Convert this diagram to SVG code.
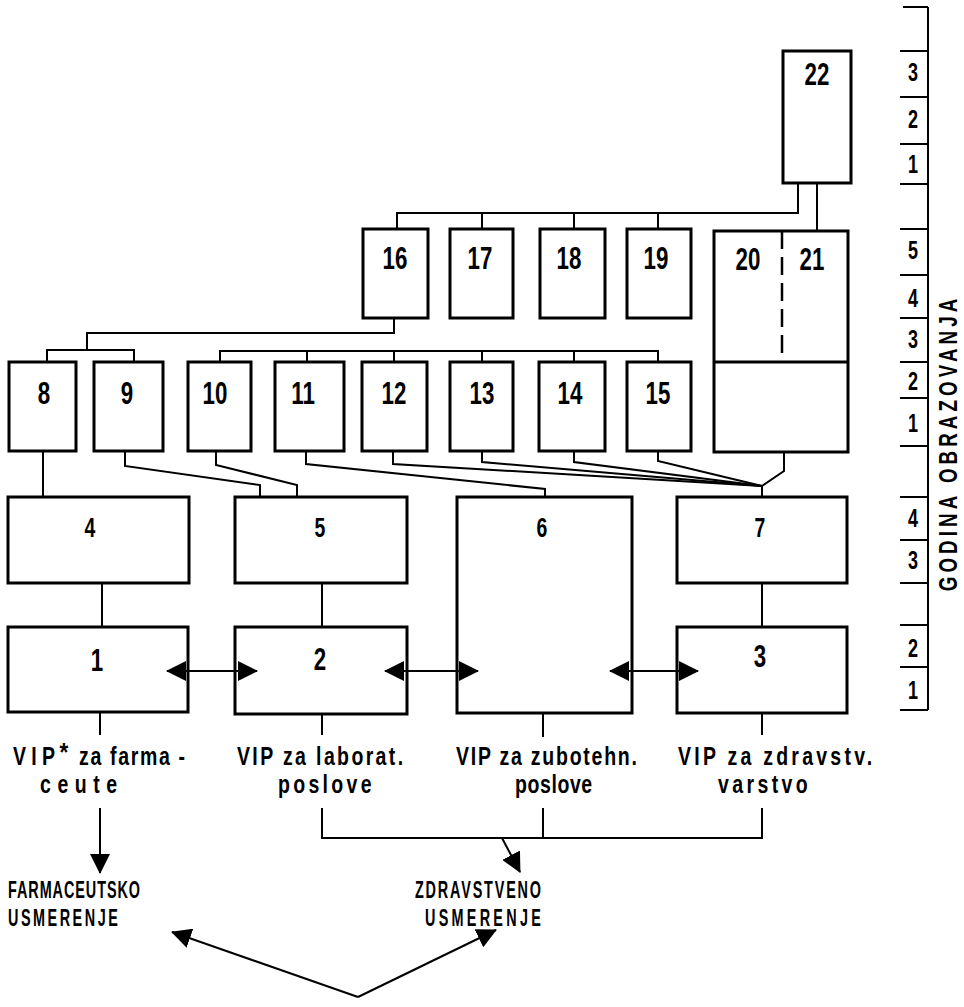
<svg xmlns="http://www.w3.org/2000/svg" width="964" height="1007" viewBox="0 0 964 1007">
<style>
.b{fill:#fff;stroke:#000;stroke-width:3}
.c{fill:none;stroke:#000;stroke-width:2}
.n{font-family:"Liberation Sans",Arial,sans-serif;font-weight:bold;font-size:31px;text-anchor:middle;fill:#000}
.m{font-family:"Liberation Sans",Arial,sans-serif;font-weight:bold;font-size:27px;text-anchor:middle;fill:#000}
.s{font-family:"Liberation Sans",Arial,sans-serif;font-weight:bold;font-size:25px;text-anchor:middle;fill:#000}
.t{font-family:"Liberation Sans",Arial,sans-serif;font-weight:bold;font-size:25px;fill:#000}
.u{font-family:"Liberation Sans",Arial,sans-serif;font-weight:bold;font-size:24px;fill:#000}
</style>
<defs>
<marker id="ah" viewBox="0 0 20 20" refX="19" refY="10" markerWidth="20" markerHeight="20" markerUnits="userSpaceOnUse" orient="auto-start-reverse">
<path d="M0,0 L20,10 L0,20 Z" fill="#000"/>
</marker>
</defs>

<g id="scale">
<path class="c" d="M928,7 V710" stroke-width="3"/>
<path class="c" d="M903,7 H928 M900,51 H928 M900,97 H928 M900,144 H928 M900,184 H928 M900,229 H928 M900,275 H928 M900,318 H928 M900,362 H928 M900,398 H928 M900,446 H928 M900,497 H928 M900,540 H928 M900,583 H928 M900,625 H928 M900,667 H928 M900,710 H928" stroke-width="2.5"/>
<text class="s" transform="translate(913,81) scale(0.72,1)">3</text>
<text class="s" transform="translate(913,128) scale(0.72,1)">2</text>
<text class="s" transform="translate(913,173) scale(0.72,1)">1</text>
<text class="s" transform="translate(913,259) scale(0.72,1)">5</text>
<text class="s" transform="translate(913,307) scale(0.72,1)">4</text>
<text class="s" transform="translate(913,348) scale(0.72,1)">3</text>
<text class="s" transform="translate(913,390) scale(0.72,1)">2</text>
<text class="s" transform="translate(913,432) scale(0.72,1)">1</text>
<text class="s" transform="translate(913,527) scale(0.72,1)">4</text>
<text class="s" transform="translate(913,569) scale(0.72,1)">3</text>
<text class="s" transform="translate(913,657) scale(0.72,1)">2</text>
<text class="s" transform="translate(913,699) scale(0.72,1)">1</text>
<text class="s" transform="translate(957,445) rotate(-90) scale(0.75,1)" textLength="390" lengthAdjust="spacing">GODINA OBRAZOVANJA</text>
</g>

<g id="n22"><rect class="b" x="783" y="51" width="68" height="132"/><text class="n" transform="translate(817,85) scale(0.72,1)">22</text></g>
<g id="n16"><rect class="b" x="363" y="229" width="65" height="89"/><text class="n" transform="translate(395,269) scale(0.72,1)">16</text></g>
<g id="n17"><rect class="b" x="450" y="229" width="63" height="89"/><text class="n" transform="translate(480,269) scale(0.72,1)">17</text></g>
<g id="n18"><rect class="b" x="540" y="229" width="65" height="89"/><text class="n" transform="translate(569,269) scale(0.72,1)">18</text></g>
<g id="n19"><rect class="b" x="627" y="229" width="64" height="89"/><text class="n" transform="translate(656,269) scale(0.72,1)">19</text></g>
<g id="n20-21">
<rect class="b" x="714" y="231" width="134" height="221"/>
<path d="M714,362 H848" stroke="#000" stroke-width="3"/>
<path d="M782,231 V362" stroke="#000" stroke-width="2.5" stroke-dasharray="18 8"/>
<text class="n" transform="translate(748,270) scale(0.72,1)">20</text>
<text class="n" transform="translate(812,270) scale(0.72,1)">21</text>
</g>
<g id="n8"><rect class="b" x="9" y="362" width="67" height="89"/><text class="n" transform="translate(44,404) scale(0.72,1)">8</text></g>
<g id="n9"><rect class="b" x="94" y="362" width="69" height="89"/><text class="n" transform="translate(127,404) scale(0.72,1)">9</text></g>
<g id="n10"><rect class="b" x="188" y="362" width="63" height="89"/><text class="n" transform="translate(215,404) scale(0.72,1)">10</text></g>
<g id="n11"><rect class="b" x="275" y="362" width="69" height="89"/><text class="n" transform="translate(303,404) scale(0.72,1)">11</text></g>
<g id="n12"><rect class="b" x="362" y="362" width="65" height="89"/><text class="n" transform="translate(394,404) scale(0.72,1)">12</text></g>
<g id="n13"><rect class="b" x="450" y="362" width="63" height="89"/><text class="n" transform="translate(482,404) scale(0.72,1)">13</text></g>
<g id="n14"><rect class="b" x="539" y="362" width="66" height="89"/><text class="n" transform="translate(570,404) scale(0.72,1)">14</text></g>
<g id="n15"><rect class="b" x="627" y="362" width="64" height="89"/><text class="n" transform="translate(658,404) scale(0.72,1)">15</text></g>
<g id="n4"><rect class="b" x="8" y="497" width="181" height="86"/><text class="m" transform="translate(90,537) scale(0.72,1)">4</text></g>
<g id="n5"><rect class="b" x="235" y="497" width="172" height="86"/><text class="m" transform="translate(320,537) scale(0.72,1)">5</text></g>
<g id="n6"><rect class="b" x="457" y="497" width="175" height="216"/><text class="m" transform="translate(542,537) scale(0.72,1)">6</text></g>
<g id="n7"><rect class="b" x="677" y="497" width="170" height="86"/><text class="m" transform="translate(760,537) scale(0.72,1)">7</text></g>
<g id="n1"><rect class="b" x="8" y="627" width="180" height="85"/><text class="n" transform="translate(97,671) scale(0.72,1)">1</text></g>
<g id="n2"><rect class="b" x="235" y="627" width="172" height="87"/><text class="n" transform="translate(320,670) scale(0.72,1)">2</text></g>
<g id="n3"><rect class="b" x="677" y="627" width="170" height="86"/><text class="n" transform="translate(760,667) scale(0.72,1)">3</text></g>

<g id="connectors">
<path class="c" d="M798,183 V213 H397 V229 M482,213 V229 M574,213 V229 M658,213 V229"/>
<path class="c" d="M817,183 V231"/>
<path class="c" d="M394,318 V333 H87 V350 M47,362 V350 H134 V362"/>
<path class="c" d="M220,363 V351 H658 V363 M307,351 V363 M394,351 V363 M482,351 V363 M574,351 V363"/>
<path class="c" d="M43,451 V497"/>
<path class="c" d="M125,451 V466 L260,485 V497"/>
<path class="c" d="M216,451 V465 L297,485 V497"/>
<path class="c" d="M306,451 V464 L545,489 V497"/>
<path class="c" d="M393,451 V464 L762,486"/>
<path class="c" d="M482,451 V462 L762,486"/>
<path class="c" d="M574,451 V462 L762,486"/>
<path class="c" d="M658,451 V461 L762,486"/>
<path class="c" d="M784,452 V471 L762,486 V497"/>
<path class="c" d="M102,583 V627 M322,583 V627 M762,583 V627"/>
<path class="c" d="M100,712 V735 M322,714 V735 M543,713 V737 M762,713 V735"/>
<path class="c" d="M167,671 H257" marker-start="url(#ah)" marker-end="url(#ah)"/>
<path class="c" d="M385,671 H478" marker-start="url(#ah)" marker-end="url(#ah)"/>
<path class="c" d="M610,671 H698" marker-start="url(#ah)" marker-end="url(#ah)"/>
<path class="c" d="M100,808 V873" marker-end="url(#ah)"/>
<path class="c" d="M322,808 V838 H762 V808 M543,808 V838"/>
<path class="c" d="M502,838 L520,872" marker-end="url(#ah)"/>
<path class="c" d="M358,997 L172,932" marker-end="url(#ah)"/>
<path class="c" d="M358,997 L496,930" marker-end="url(#ah)"/>
</g>

<g id="labels">
<text class="t" transform="translate(13,765) scale(0.78,1)" textLength="54" lengthAdjust="spacing">VIP</text>
<text class="t" transform="translate(64,761) scale(0.9,1)" font-size="30" text-anchor="middle">*</text>
<text class="t" transform="translate(79,765) scale(0.78,1)" textLength="136" lengthAdjust="spacing">za farma -</text>
<text class="t" transform="translate(40,793) scale(0.78,1)" textLength="99" lengthAdjust="spacing">ceute</text>
<text class="t" transform="translate(237,765) scale(0.78,1)" textLength="213" lengthAdjust="spacing">VIP za laborat.</text>
<text class="t" transform="translate(278,793) scale(0.78,1)" textLength="120" lengthAdjust="spacing">poslove</text>
<text class="t" transform="translate(456,765) scale(0.78,1)" textLength="232" lengthAdjust="spacing">VIP za zubotehn.</text>
<text class="t" transform="translate(515,793) scale(0.78,1)" textLength="99" lengthAdjust="spacing">poslove</text>
<text class="t" transform="translate(678,765) scale(0.78,1)" textLength="249" lengthAdjust="spacing">VIP za zdravstv.</text>
<text class="t" transform="translate(718,793) scale(0.78,1)" textLength="115" lengthAdjust="spacing">varstvo</text>
<text class="u" transform="translate(8,898) scale(0.6,1)" textLength="220" lengthAdjust="spacing">FARMACEUTSKO</text>
<text class="u" transform="translate(8,926) scale(0.6,1)" textLength="183" lengthAdjust="spacing">USMERENJE</text>
<text class="u" transform="translate(415,898) scale(0.6,1)" textLength="210" lengthAdjust="spacing">ZDRAVSTVENO</text>
<text class="u" transform="translate(425,926) scale(0.6,1)" textLength="193" lengthAdjust="spacing">USMERENJE</text>
</g>
</svg>
